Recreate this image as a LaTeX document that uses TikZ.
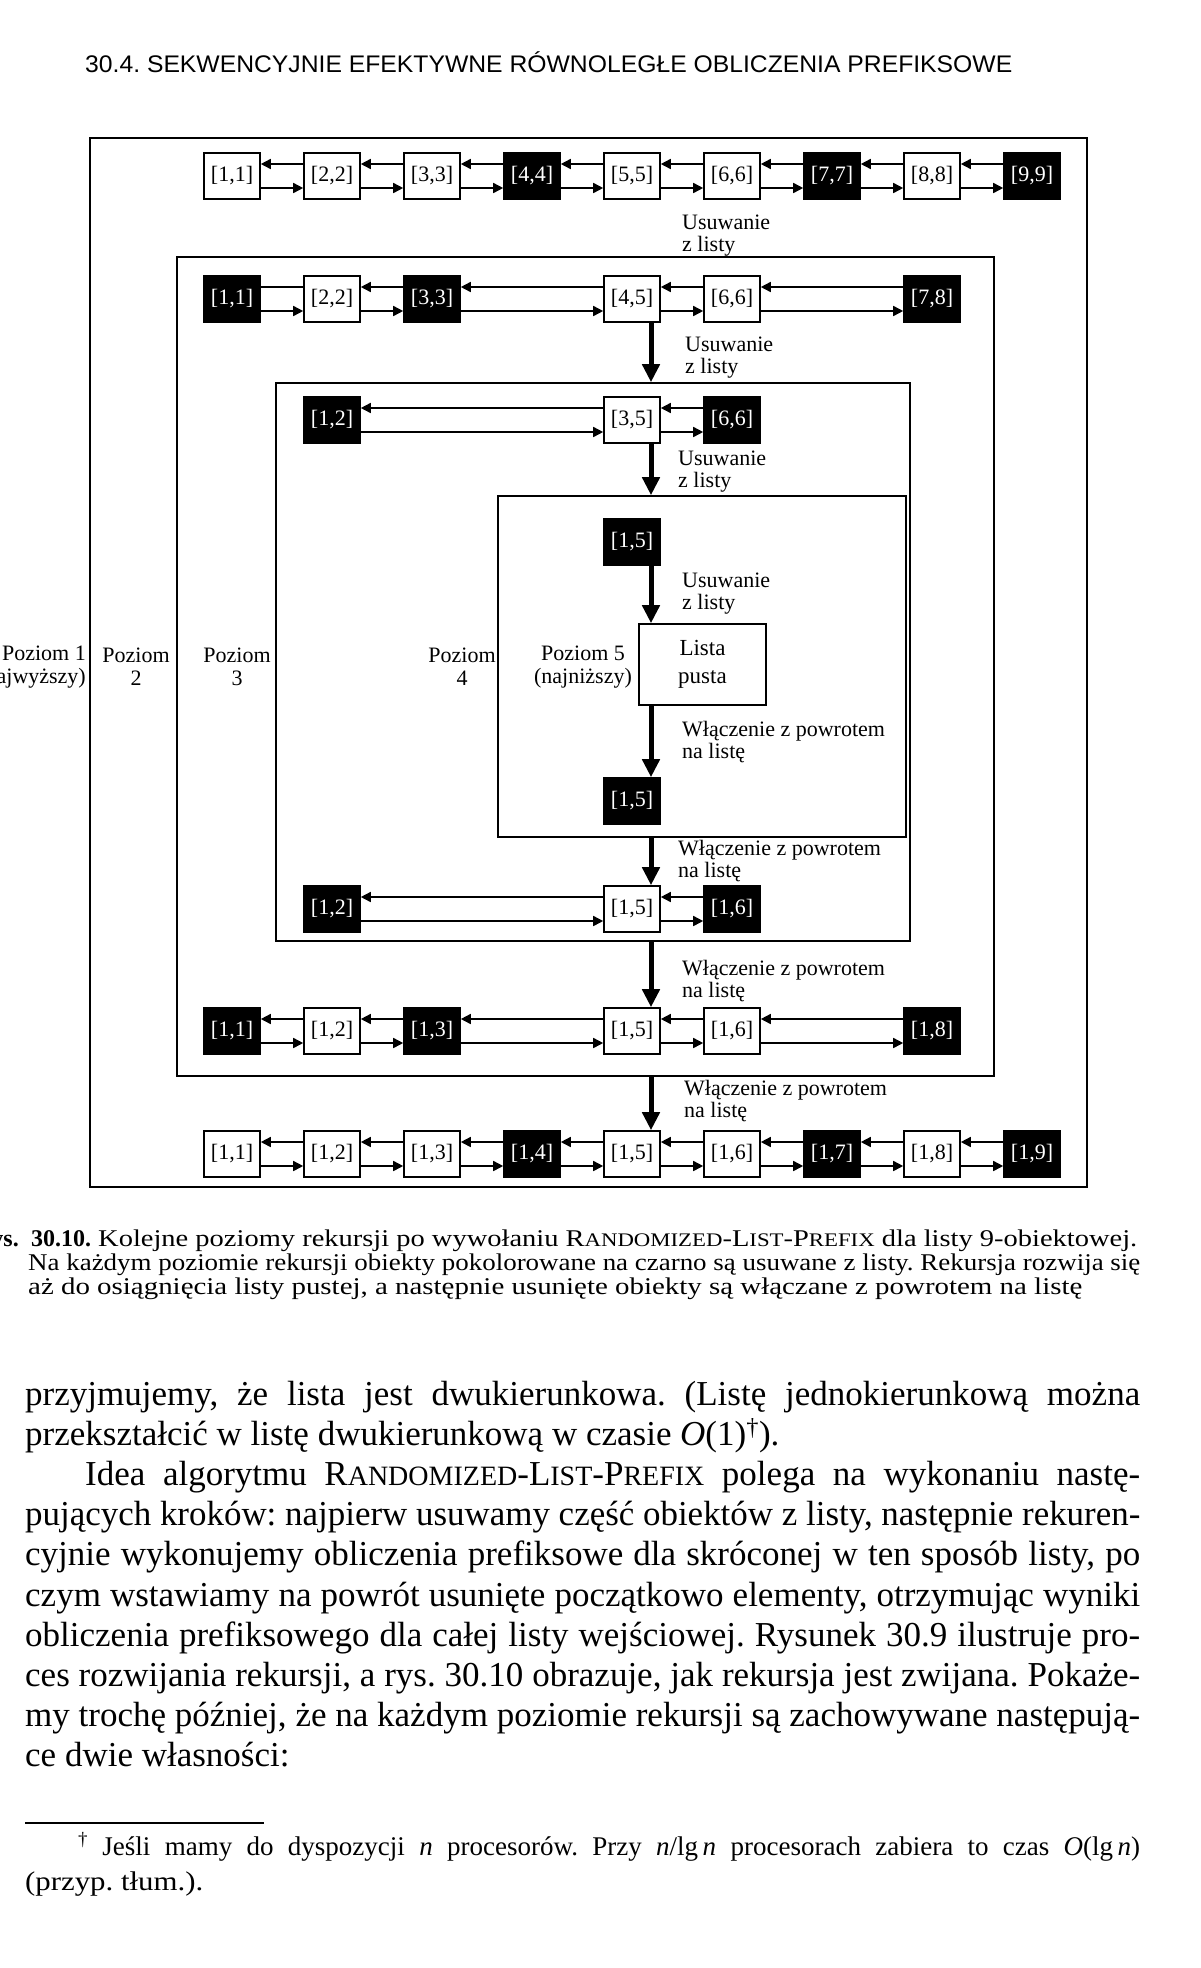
\documentclass[tikz,border=0pt]{standalone}
\usepackage{fontspec}
\setmainfont{Liberation Serif}
\newfontfamily\hdrfont{Liberation Sans}
\usetikzlibrary{arrows.meta}
\frenchspacing
\newlength\fitlen
\newcommand\fitline[2]{\settowidth\fitlen{#2}\ifdim\fitlen<#1\relax\makebox[#1][s]{#2}\else\resizebox{#1}{\height}{#2}\fi}
\newcommand\fitx[2]{\resizebox{#1}{\height}{#2}}
\newcommand\smc[1]{\scalebox{0.8}{#1}}
\newcommand\dlink[2]{%
  \draw[larr] ([yshift=12pt]#1.east) -- ([yshift=12pt]#2.west);
  \draw[rarr] ([yshift=-12pt]#1.east) -- ([yshift=-12pt]#2.west);}
\tikzset{
  wbox/.style={draw, line width=1.6pt, fill=white, minimum width=56pt, minimum height=46pt, inner sep=0pt, font=\fontsize{22}{22}\selectfont},
  bbox/.style={wbox, fill=black, text=white},
  larr/.style={line width=1.6pt, {Triangle[length=10pt,width=10pt]}-},
  rarr/.style={line width=1.6pt, -{Triangle[length=10pt,width=10pt]}},
  plainln/.style={line width=1.6pt},
  bigarr/.style={line width=5pt, -{Triangle[length=18pt,width=17pt]}},
  frame/.style={draw, line width=1.6pt, inner sep=0pt},
  lbl/.style={font=\fontsize{22}{22}\selectfont, align=left, anchor=west, inner sep=0pt},
  poz/.style={font=\fontsize{22}{23}\selectfont, align=center, inner sep=0pt},
  txt/.style={anchor=base west, inner sep=0pt},
}
\begin{document}
\begin{tikzpicture}[x=1pt,y=-1pt]
\fill[white] (0,0) rectangle (1200,1968);
\useasboundingbox (0,0) rectangle (1200,1968);

% header
\node[txt] (hdr) at (85,72) {\hdrfont\fontsize{24}{24}\selectfont\fitx{927pt}{30.4. SEKWENCYJNIE EFEKTYWNE RÓWNOLEGŁE OBLICZENIA PREFIKSOWE}};

% frames
\node[frame, minimum width=997pt, minimum height=1049pt] (L1) at (588.5,662.5) {};
\node[frame, minimum width=817pt, minimum height=819pt] (L2) at (585.5,666.5) {};
\node[frame, minimum width=634pt, minimum height=558pt] (L3) at (593,662) {};
\node[frame, minimum width=408pt, minimum height=341pt] (L4) at (702,666.5) {};
\node[frame, minimum width=127pt, minimum height=81pt, font=\fontsize{23}{28}\selectfont, align=center] (LP) at (702.5,664.5) {Lista\\pusta};

\coordinate (ax) at (651,0);

% row 1
\node[wbox] (a0) at (232,176) {[1,1]};
\node[wbox] (a1) at (332,176) {[2,2]};
\node[wbox] (a2) at (432,176) {[3,3]};
\node[bbox] (a3) at (532,176) {[4,4]};
\node[wbox] (a4) at (632,176) {[5,5]};
\node[wbox] (a5) at (732,176) {[6,6]};
\node[bbox] (a6) at (832,176) {[7,7]};
\node[wbox] (a7) at (932,176) {[8,8]};
\node[bbox] (a8) at (1032,176) {[9,9]};
\dlink{a0}{a1}\dlink{a1}{a2}\dlink{a2}{a3}\dlink{a3}{a4}\dlink{a4}{a5}\dlink{a5}{a6}\dlink{a6}{a7}\dlink{a7}{a8}

% row 2
\node[bbox] (b0) at (232,299) {[1,1]};
\node[wbox] (b1) at (332,299) {[2,2]};
\node[bbox] (b2) at (432,299) {[3,3]};
\node[wbox] (b4) at (632,299) {[4,5]};
\node[wbox] (b5) at (732,299) {[6,6]};
\node[bbox] (b7) at (932,299) {[7,8]};
\draw[plainln] ([yshift=12pt]b0.east) -- ([yshift=12pt]b1.west);
\draw[rarr] ([yshift=-12pt]b0.east) -- ([yshift=-12pt]b1.west);
\dlink{b1}{b2}\dlink{b2}{b4}\dlink{b4}{b5}\dlink{b5}{b7}

% row 3
\node[bbox] (c1) at (332,420) {[1,2]};
\node[wbox] (c4) at (632,420) {[3,5]};
\node[bbox] (c5) at (732,420) {[6,6]};
\dlink{c1}{c4}\dlink{c4}{c5}

% level 4 / 5
\node[bbox] (d4) at (632,542) {[1,5]};
\node[bbox] (e4) at (632,801) {[1,5]};

% row 7
\node[bbox] (f1) at (332,909) {[1,2]};
\node[wbox] (f4) at (632,909) {[1,5]};
\node[bbox] (f5) at (732,909) {[1,6]};
\dlink{f1}{f4}\dlink{f4}{f5}

% row 8
\node[bbox] (g0) at (232,1031) {[1,1]};
\node[wbox] (g1) at (332,1031) {[1,2]};
\node[bbox] (g2) at (432,1031) {[1,3]};
\node[wbox] (g4) at (632,1031) {[1,5]};
\node[wbox] (g5) at (732,1031) {[1,6]};
\node[bbox] (g7) at (932,1031) {[1,8]};
\dlink{g0}{g1}\dlink{g1}{g2}\dlink{g2}{g4}\dlink{g4}{g5}\dlink{g5}{g7}

% row 9
\node[wbox] (h0) at (232,1154) {[1,1]};
\node[wbox] (h1) at (332,1154) {[1,2]};
\node[wbox] (h2) at (432,1154) {[1,3]};
\node[bbox] (h3) at (532,1154) {[1,4]};
\node[wbox] (h4) at (632,1154) {[1,5]};
\node[wbox] (h5) at (732,1154) {[1,6]};
\node[bbox] (h6) at (832,1154) {[1,7]};
\node[wbox] (h7) at (932,1154) {[1,8]};
\node[bbox] (h8) at (1032,1154) {[1,9]};
\dlink{h0}{h1}\dlink{h1}{h2}\dlink{h2}{h3}\dlink{h3}{h4}\dlink{h4}{h5}\dlink{h5}{h6}\dlink{h6}{h7}\dlink{h7}{h8}

% vertical arrows
\draw[bigarr] (b4.south -| ax) -- (L3.north -| ax);
\draw[bigarr] (c4.south -| ax) -- (L4.north -| ax);
\draw[bigarr] (d4.south -| ax) -- (LP.north -| ax);
\draw[bigarr] (LP.south -| ax) -- (e4.north -| ax);
\draw[bigarr] (L4.south -| ax) -- (f4.north -| ax);
\draw[bigarr] (L3.south -| ax) -- (g4.north -| ax);
\draw[bigarr] (L2.south -| ax) -- (h4.north -| ax);

% arrow labels
\node[lbl] (u1) at (682,236) {Usuwanie\\z listy};
\node[lbl] (u2) at (685,358) {Usuwanie\\z listy};
\node[lbl] (u3) at (678,472) {Usuwanie\\z listy};
\node[lbl] (u4) at (682,594) {Usuwanie\\z listy};
\node[lbl] (w1) at (682,742) {Włączenie z powrotem\\na listę};
\node[lbl] (w2) at (678,861) {Włączenie z powrotem\\na listę};
\node[lbl] (w3) at (682,981) {Włączenie z powrotem\\na listę};
\node[lbl] (w4) at (684,1101) {Włączenie z powrotem\\na listę};

% level labels
\node[poz, anchor=east, align=right] (p1) at (86,667) {Poziom 1\\(najwyższy)};
\node[poz] (p2) at (136,667) {Poziom\\2};
\node[poz] (p3) at (237,667) {Poziom\\3};
\node[poz] (p4) at (462,667) {Poziom\\4};
\node[poz] (p5) at (583,667) {Poziom 5\\(najniższy)};

% caption
\begin{scope}[font=\fontsize{24}{24}\selectfont]
\node[txt, anchor=base east] (cap0) at (19,1246) {\textbf{Rys.}};
\node[txt] (cap1) at (31,1246) {\textbf{30.10.}};
\node[txt] (cap2) at (98,1246) {\fitx{1039pt}{Kolejne poziomy rekursji po wywołaniu R\smc{ANDOMIZED}-L\smc{IST}-P\smc{REFIX} dla listy 9-obiektowej.}};
\node[txt] (cap3) at (28,1270) {\fitx{1112pt}{Na każdym poziomie rekursji obiekty pokolorowane na czarno są usuwane z listy. Rekursja rozwija się}};
\node[txt] (cap4) at (28,1294) {\fitx{1054pt}{aż do osiągnięcia listy pustej, a następnie usunięte obiekty są włączane z powrotem na listę}};
\end{scope}

% body
\begin{scope}[font=\fontsize{35}{40}\selectfont]
\node[txt] (t1) at (25,1405) {\fitline{1115pt}{przyjmujemy, że lista jest dwukierunkowa. (Listę jednokierunkową można}};
\node[txt] (t2) at (25,1445) {przekształcić w listę dwukierunkową w czasie \textit{O}(1)\textsuperscript{†}).};
\node[txt] (t3) at (85,1485) {\fitline{1055pt}{Idea algorytmu R\smc{ANDOMIZED}-L\smc{IST}-P\smc{REFIX} polega na wykonaniu nastę-}};
\node[txt] (t4) at (25,1525) {\fitline{1115pt}{pujących kroków: najpierw usuwamy część obiektów z listy, następnie rekuren-}};
\node[txt] (t5) at (25,1565) {\fitline{1115pt}{cyjnie wykonujemy obliczenia prefiksowe dla skróconej w ten sposób listy, po}};
\node[txt] (t6) at (25,1606) {\fitline{1115pt}{czym wstawiamy na powrót usunięte początkowo elementy, otrzymując wyniki}};
\node[txt] (t7) at (25,1646) {\fitline{1115pt}{obliczenia prefiksowego dla całej listy wejściowej. Rysunek 30.9 ilustruje pro-}};
\node[txt] (t8) at (25,1686) {\fitline{1115pt}{ces rozwijania rekursji, a rys. 30.10 obrazuje, jak rekursja jest zwijana. Pokaże-}};
\node[txt] (t9) at (25,1726) {\fitline{1115pt}{my trochę później, że na każdym poziomie rekursji są zachowywane następują-}};
\node[txt] (t10) at (25,1766) {ce dwie własności:};
\end{scope}

% footnote
\coordinate (fr0) at (25,1823);
\coordinate (fr1) at (264,1823);
\draw[line width=2pt] (fr0) -- (fr1);
\begin{scope}[font=\fontsize{27}{35}\selectfont]
\node[txt] (fn1) at (78,1855) {\fitline{1062pt}{\textsuperscript{†} Jeśli mamy do dyspozycji \textit{n} procesorów. Przy \textit{n}/lg\,\textit{n} procesorach zabiera to czas \textit{O}(lg\,\textit{n})}};
\node[txt] (fn2) at (25,1890) {\fitx{178pt}{(przyp. tłum.).}};
\end{scope}
\end{tikzpicture}
\end{document}
